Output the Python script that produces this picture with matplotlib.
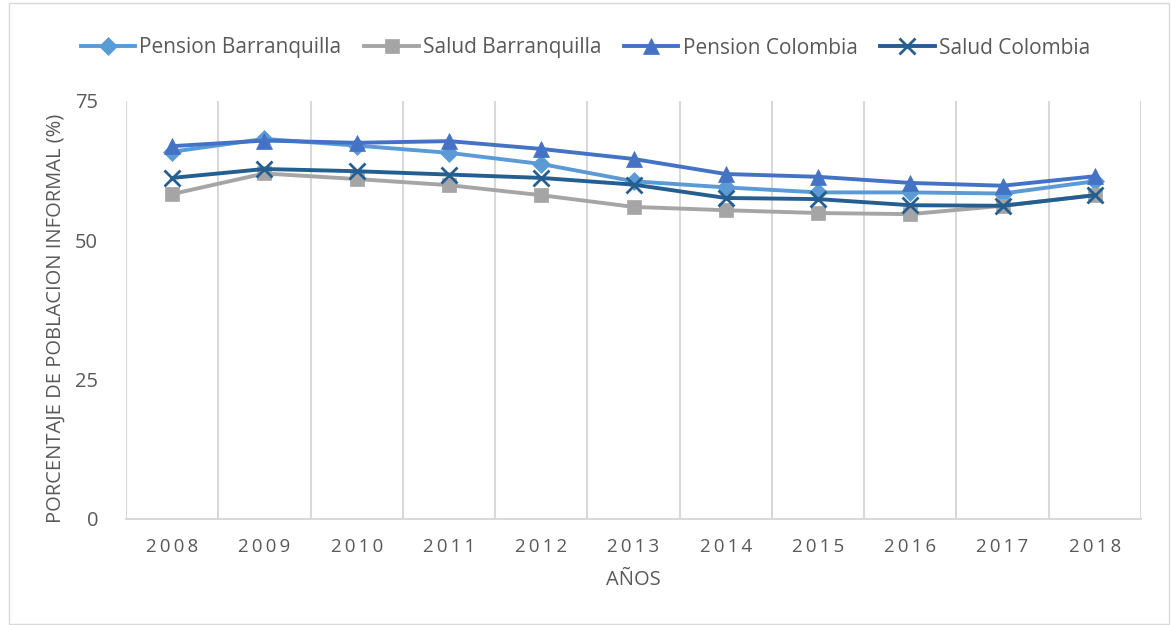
import matplotlib.pyplot as plt
from matplotlib.patches import Rectangle
from matplotlib.ticker import FixedLocator

# Data
years = ["2008", "2009", "2010", "2011", "2012", "2013", "2014", "2015", "2016", "2017", "2018"]
pension_barranquilla = [65.9, 68.2, 67.0, 65.7, 63.7, 60.6, 59.5, 58.6, 58.6, 58.4, 60.6]
salud_barranquilla = [58.3, 62.0, 61.0, 59.9, 58.1, 56.0, 55.4, 54.9, 54.7, 56.2, 58.1]
pension_colombia = [66.9, 67.9, 67.5, 67.8, 66.4, 64.6, 61.9, 61.4, 60.3, 59.8, 61.5]
salud_colombia = [61.2, 62.8, 62.4, 61.8, 61.2, 60.0, 57.6, 57.4, 56.3, 56.2, 58.1]

series = [
    ("Pension Barranquilla", pension_barranquilla, "#5B9BD5", "D", 9),
    ("Salud Barranquilla", salud_barranquilla, "#A5A5A5", "s", 10),
    ("Pension Colombia", pension_colombia, "#4472C4", "^", 11),
    ("Salud Colombia", salud_colombia, "#255E91", "x", 11),
]

plt.rcParams['font.family'] = ['Open Sans', 'DejaVu Sans']
text_color = "#595959"
grid_color = "#D9D9D9"

fig = plt.figure(figsize=(11.71, 6.25), dpi=100)
ax = fig.add_axes([126 / 1171, 1 - 519 / 625, (1141 - 126) / 1171, (519 - 101) / 625])

x = list(range(len(years)))
for name, vals, color, marker, ms in series:
    ax.plot(x, vals, color=color, lw=2.8, marker=marker, markersize=ms,
            markeredgewidth=2 if marker == "x" else 0.5, markeredgecolor=color,
            label=name)

ax.set_xlim(-0.5, len(years) - 0.5)
ax.set_ylim(0, 75)
ax.set_yticks([0, 25, 50, 75])
ax.set_xticks(x)
ax.set_xticklabels(["\u2009".join(y) for y in years], fontsize=13.5, color=text_color)
ax.xaxis.set_minor_locator(FixedLocator([i - 0.5 for i in range(len(years) + 1)]))
ax.grid(axis="x", which="minor", color=grid_color, lw=1.5)
ax.tick_params(axis="x", which="both", length=0, pad=14)
ax.tick_params(axis="y", length=0, pad=20, labelsize=14.5, labelcolor=text_color)

for side in ["top", "right", "left"]:
    ax.spines[side].set_visible(False)
ax.spines["bottom"].set_color(grid_color)
ax.spines["bottom"].set_linewidth(1.5)

ax.set_xlabel("AÑOS", fontsize=14.5, color=text_color, labelpad=10)
ax.set_ylabel("PORCENTAJE DE POBLACION INFORMAL (%)", fontsize=14.5, color=text_color, labelpad=4)
ax.yaxis.set_label_coords(-60 / 1015, 0.48)

leg = fig.legend(loc="center", bbox_to_anchor=(0.5, 1 - 48 / 625), ncol=4, frameon=False,
                 fontsize=15, handlelength=2.6, handletextpad=0.2, columnspacing=1.1)
for t in leg.get_texts():
    t.set_color(text_color)

# outer chart border
fig.patches.append(Rectangle((9 / 1171, 0.002), (1169 - 9) / 1171, 0.994, transform=fig.transFigure,
                             fill=False, edgecolor=grid_color, lw=1))

fig.savefig("out.png", dpi=100)
